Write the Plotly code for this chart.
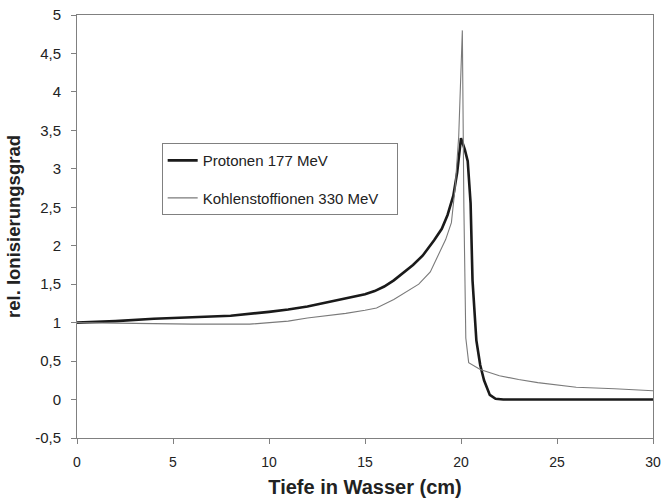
import plotly.graph_objects as go

# Protonen 177 MeV
proton_x = [0, 2, 4, 6, 8, 10, 11, 12, 13, 14, 15, 15.5, 16, 16.5, 17, 17.5, 18, 18.3, 18.6, 19, 19.3,
            19.6, 19.8, 20.0, 20.2, 20.35, 20.5, 20.6, 20.8, 21.0, 21.2, 21.5, 21.8, 22.2, 25, 30]
proton_y = [1.0, 1.02, 1.05, 1.07, 1.09, 1.14, 1.17, 1.21, 1.26, 1.31, 1.37, 1.41, 1.47, 1.55, 1.65,
            1.75, 1.87, 1.97, 2.07, 2.22, 2.40, 2.65, 2.95, 3.40, 3.25, 3.10, 2.55, 1.55, 0.77, 0.45,
            0.25, 0.06, 0.01, 0.0, 0.0, 0.0]

# Kohlenstoffionen 330 MeV
carbon_x = [0, 3, 6, 9, 11, 12, 13, 14, 15, 15.6, 16.5, 17.2, 17.8, 18.4, 18.8, 19.2, 19.5, 19.7,
            19.88, 20.0, 20.07, 20.15, 20.25, 20.4, 21.0, 22.0, 23.0, 24.0, 26.0, 28.0, 30.0]
carbon_y = [1.0, 0.99, 0.98, 0.98, 1.02, 1.06, 1.09, 1.12, 1.16, 1.19, 1.30, 1.41, 1.50, 1.66, 1.86,
            2.08, 2.30, 2.77, 3.42, 4.28, 4.80, 2.50, 0.80, 0.48, 0.39, 0.31, 0.26, 0.22, 0.16, 0.14, 0.115]

y_ticks = [-0.5, 0, 0.5, 1, 1.5, 2, 2.5, 3, 3.5, 4, 4.5, 5]
y_labels = ["-0,5", "0", "0,5", "1", "1,5", "2", "2,5", "3", "3,5", "4", "4,5", "5"]
x_ticks = [0, 5, 10, 15, 20, 25, 30]

NB = "\u00a0"

fig = go.Figure()
fig.add_trace(go.Scatter(x=proton_x, y=proton_y, mode="lines", name="Protonen 177 MeV",
                         legendgroup="p", line=dict(color="#1a1a1a", width=2.6)))
fig.add_trace(go.Scatter(x=carbon_x, y=carbon_y, mode="lines", name="Kohlenstoffionen 330 MeV" + NB * 3,
                         legendgroup="c", line=dict(color="#7a7a7a", width=1.1)))

fig.update_layout(
    width=663, height=498,
    margin=dict(l=77, r=10, t=15, b=60),
    paper_bgcolor="white", plot_bgcolor="white",
    font=dict(family="Liberation Sans, Arial, sans-serif", size=14, color="#222222"),
    showlegend=True,
    legend=dict(x=0.147, y=0.697, xanchor="left", yanchor="top",
                bgcolor="white", bordercolor="#808080", borderwidth=1,
                font=dict(size=15, color="#222222"), tracegroupgap=15,
                traceorder="grouped", itemwidth=30),
    xaxis=dict(range=[0, 30], tickvals=x_ticks, ticks="outside", ticklen=5,
               tickcolor="#808080", showline=True, linecolor="#808080", linewidth=1,
               mirror=True, showgrid=False, zeroline=False, automargin=False,
               tickfont=dict(size=14), ticklabelstandoff=6, ticklabeloverflow="allow",
               title=dict(text="<b>Tiefe in Wasser (cm)</b>", font=dict(size=20), standoff=12)),
    yaxis=dict(range=[-0.5, 5], tickvals=y_ticks, ticktext=y_labels, ticks="outside", ticklen=5,
               tickcolor="#808080", showline=True, linecolor="#808080", linewidth=1,
               mirror=True, showgrid=False, zeroline=False, automargin=False,
               tickfont=dict(size=15), ticklabelstandoff=7, ticklabeloverflow="allow",
               title=dict(text="<b>rel. Ionisierungsgrad</b>", font=dict(size=18.5), standoff=9)),
)

# remove the default page margin so the figure fills the window exactly
fig.write_html("out.html", config={"displayModeBar": False},
               post_script="document.body.style.margin='0px';")
